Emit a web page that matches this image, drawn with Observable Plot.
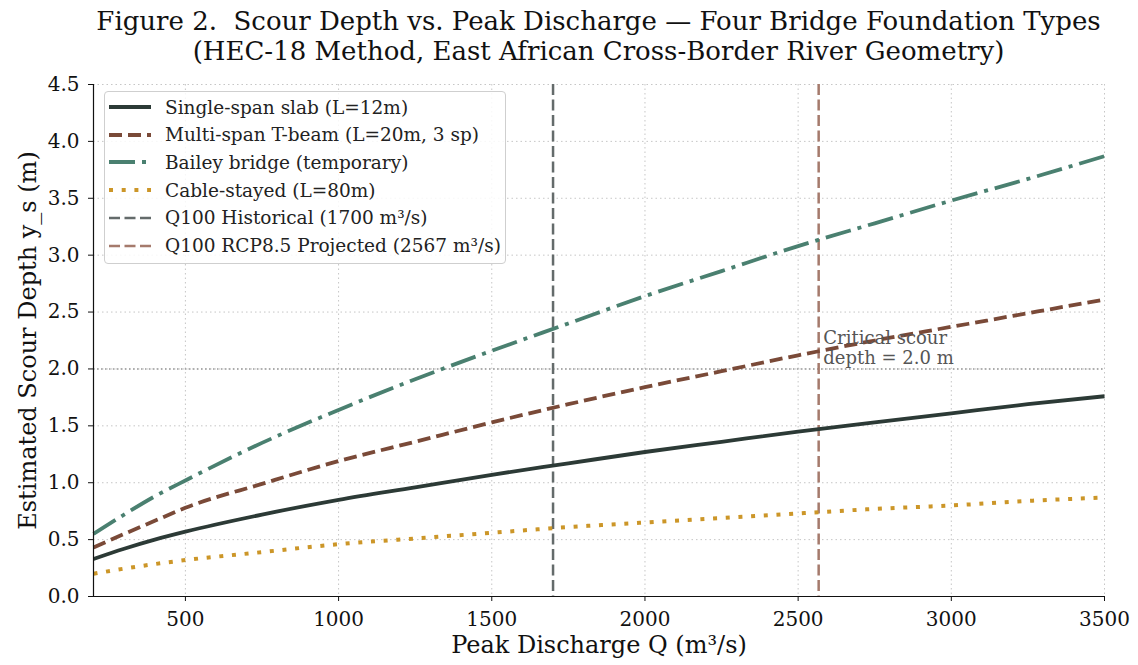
<!DOCTYPE html>
<html>
<head>
<meta charset="utf-8">
<script src="https://cdn.jsdelivr.net/npm/d3@7"></script>
<script src="https://cdn.jsdelivr.net/npm/@observablehq/plot@0.6"></script>
<style>
  body { margin: 0; background: #fff; font-family: "DejaVu Serif", serif; }
  #wrap { position: relative; width: 1138px; height: 665px; }
  #title { position: absolute; left: 93px; width: 1011px; top: 6px; text-align: center;
           font-size: 26px; line-height: 30px; color: #111; white-space: nowrap; }
  #legend { position: absolute; left: 104px; top: 91px; width: 400px; height: 171px;
            border: 1px solid #cfcfcf; border-radius: 4px; background: rgba(255,255,255,0.85);
            font-size: 18.5px; color: #222; }
  .row { position: absolute; left: 0; height: 20px; display: flex; align-items: center; }
  .row svg { margin-left: 3px; }
  .row span { margin-left: 13px; white-space: nowrap; }
  #chart { position: absolute; left: 0; top: 70px; }
</style>
</head>
<body>
<div id="wrap">
  <div id="title">Figure 2.&nbsp; Scour Depth vs. Peak Discharge — Four Bridge Foundation Types<br>(HEC-18 Method, East African Cross-Border River Geometry)</div>
  <div id="chart"></div>
  <div id="legend"></div>
</div>
<script>
// ---- data ----
const discharge = [200, 300, 400, 500, 750, 1000, 1250, 1500, 1750, 2000, 2250, 2500, 2750, 3000, 3250, 3500];
const singleSpan = [0.33, 0.42, 0.50, 0.57, 0.72, 0.85, 0.96, 1.07, 1.17, 1.27, 1.36, 1.45, 1.53, 1.61, 1.69, 1.76];
const multiSpan  = [0.43, 0.55, 0.665, 0.78, 0.99, 1.19, 1.36, 1.53, 1.69, 1.84, 1.98, 2.12, 2.25, 2.37, 2.49, 2.61];
const bailey     = [0.55, 0.72, 0.88, 1.02, 1.35, 1.64, 1.91, 2.16, 2.40, 2.64, 2.86, 3.08, 3.28, 3.48, 3.67, 3.87];
const cable      = [0.20, 0.245, 0.285, 0.32, 0.39, 0.46, 0.51, 0.56, 0.61, 0.65, 0.69, 0.73, 0.77, 0.80, 0.84, 0.87];
const seriesNames = ["Single-span slab (L=12m)", "Multi-span T-beam (L=20m, 3 sp)", "Bailey bridge (temporary)", "Cable-stayed (L=80m)"];
const q100Historical = 1700;
const q100Projected = 2567;
const criticalDepth = 2.0;
const xTicks = [500, 1000, 1500, 2000, 2500, 3000, 3500];
const yTicks = [0, 0.5, 1.0, 1.5, 2.0, 2.5, 3.0, 3.5, 4.0, 4.5];

// ---- styles ----
const styles = [
  {stroke: "#2c3a36", dash: null, width: 3.8},
  {stroke: "#7a4a38", dash: "13,6", width: 3.8},
  {stroke: "#4a8070", dash: "26,7,4,7", width: 3.8},
  {stroke: "#cc9628", dash: "4,8.7", width: 4}
];
const refStyles = [
  {stroke: "#646b6b", dash: "11,4.5", width: 2.5, label: "Q100 Historical (1700 m³/s)"},
  {stroke: "#a57a6c", dash: "11,4.5", width: 2.5, label: "Q100 RCP8.5 Projected (2567 m³/s)"}
];

const allSeries = [singleSpan, multiSpan, bailey, cable];
const lineMarks = allSeries.map((vals, i) => {
  const data = discharge.map((q, j) => ({q, y: vals[j]}));
  return Plot.line(data, {x: "q", y: "y", curve: "monotone-x", stroke: styles[i].stroke,
    strokeWidth: styles[i].width, strokeDasharray: styles[i].dash || undefined, strokeLinecap: "butt"});
});

const chart = Plot.plot({
  width: 1138,
  height: 595,
  marginLeft: 93,
  marginRight: 34,
  marginTop: 14,
  marginBottom: 69,
  style: {fontFamily: "DejaVu Serif", fontSize: "20px", color: "#111", background: "#fff", overflow: "visible"},
  x: {domain: [200, 3500], label: null},
  y: {domain: [0, 4.5], label: null},
  marks: [
    Plot.gridX(xTicks, {stroke: "#b8b8b8", strokeOpacity: 0.8, strokeDasharray: "1.5,3"}),
    Plot.gridY(yTicks.slice(1), {stroke: "#b8b8b8", strokeOpacity: 0.8, strokeDasharray: "1.5,3"}),
    Plot.ruleY([criticalDepth], {stroke: "#999", strokeWidth: 1.5, strokeDasharray: "1.5,2.5"}),
    Plot.ruleX([q100Historical], {stroke: refStyles[0].stroke, strokeWidth: refStyles[0].width, strokeDasharray: refStyles[0].dash}),
    Plot.ruleX([q100Projected], {stroke: refStyles[1].stroke, strokeWidth: refStyles[1].width, strokeDasharray: refStyles[1].dash}),
    ...lineMarks,
    Plot.text([{x: q100Projected + 15, y: criticalDepth + 0.04}], {x: "x", y: "y",
      text: () => "Critical scour\ndepth = 2.0 m", textAnchor: "start", lineAnchor: "bottom",
      fill: "#555", fontSize: 18, lineHeight: 1.15}),
    Plot.ruleY([0], {stroke: "#111", strokeWidth: 1.2}),
    Plot.ruleX([200], {stroke: "#111", strokeWidth: 1.2}),
    Plot.axisX(xTicks, {tickSize: 5, tickPadding: 10, fontSize: 20, tickFormat: d3.format("d"), label: null}),
    Plot.axisY(yTicks, {tickSize: 5, tickPadding: 9, fontSize: 20, tickFormat: d3.format(".1f"), label: null}),
    Plot.text(["Peak Discharge Q (m³/s)"], {frameAnchor: "bottom", dy: 56, fontSize: 24, fill: "#111", textAnchor: "middle"}),
    Plot.text(["Estimated Scour Depth y_s (m)"], {frameAnchor: "left", dx: -65, rotate: -90, fontSize: 24, fill: "#111", textAnchor: "middle"})
  ]
});
document.getElementById("chart").appendChild(chart);

// ---- legend ----
const legend = document.getElementById("legend");
const entries = seriesNames.map((n, i) => ({label: n, ...styles[i]})).concat(refStyles);
entries.forEach((e, i) => {
  const row = document.createElement("div");
  row.className = "row";
  row.style.top = (5 + i * 27.7) + "px";
  const ns = "http://www.w3.org/2000/svg";
  const svg = document.createElementNS(ns, "svg");
  svg.setAttribute("width", 44); svg.setAttribute("height", 20);
  const ln = document.createElementNS(ns, "line");
  ln.setAttribute("x1", 1); ln.setAttribute("x2", 43);
  ln.setAttribute("y1", 10); ln.setAttribute("y2", 10);
  ln.setAttribute("stroke", e.stroke);
  ln.setAttribute("stroke-width", e.width);
  if (e.dash) ln.setAttribute("stroke-dasharray", e.dash);
  svg.appendChild(ln);
  row.appendChild(svg);
  const sp = document.createElement("span");
  sp.textContent = e.label;
  row.appendChild(sp);
  legend.appendChild(row);
});
</script>
</body>
</html>
